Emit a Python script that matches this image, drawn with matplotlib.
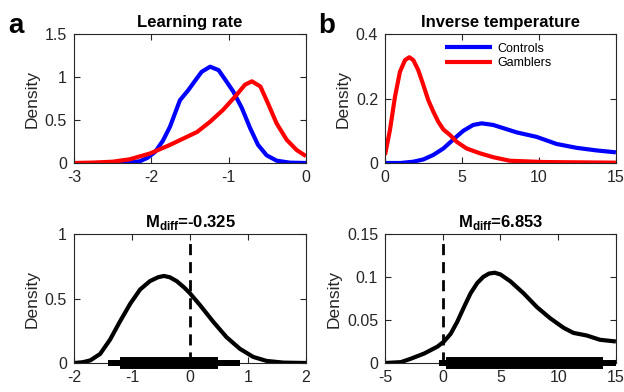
import matplotlib
matplotlib.use("Agg")
import matplotlib.pyplot as plt

plt.rcParams['font.family'] = ['Liberation Sans', 'DejaVu Sans']
plt.rcParams['mathtext.fontset'] = 'custom'
plt.rcParams['mathtext.bf'] = 'Liberation Sans:bold'
plt.rcParams['mathtext.rm'] = 'Liberation Sans'

# --- data ---
# learning rate (log scale), posterior densities
lr_ctrl_x = [-2.49, -2.3, -2.15, -2.05, -1.95, -1.85, -1.76, -1.63, -1.52, -1.44, -1.35,
             -1.24, -1.13, -1.03, -0.94, -0.83, -0.72, -0.62, -0.51, -0.38, -0.21, 0.0]
lr_ctrl_y = [0.0, 0.003, 0.02, 0.06, 0.13, 0.26, 0.42, 0.73, 0.85, 0.95, 1.06,
             1.12, 1.08, 0.95, 0.83, 0.64, 0.40, 0.21, 0.09, 0.027, 0.004, 0.0]
lr_gamb_x = [-3.0, -2.75, -2.5, -2.28, -2.02, -1.76, -1.41, -1.24, -1.07, -0.90, -0.79,
             -0.70, -0.59, -0.49, -0.38, -0.25, -0.12, 0.0]
lr_gamb_y = [0.0, 0.005, 0.015, 0.043, 0.11, 0.21, 0.36, 0.48, 0.62, 0.79, 0.91,
             0.95, 0.89, 0.69, 0.46, 0.27, 0.15, 0.08]

# inverse temperature
it_ctrl_x = [0.0, 1.0, 1.84, 2.49, 3.14, 3.79, 4.44, 5.09, 5.73, 6.28, 7.03, 8.55, 9.85,
             11.15, 12.45, 13.74, 15.0]
it_ctrl_y = [0.0, 0.0, 0.004, 0.011, 0.025, 0.045, 0.073, 0.100, 0.118, 0.123, 0.118,
             0.095, 0.081, 0.059, 0.047, 0.039, 0.033]
it_gamb_x = [0.0, 0.32, 0.65, 0.97, 1.30, 1.58, 1.84, 2.16, 2.49, 2.81, 3.14, 3.46,
             3.79, 4.22, 4.65, 5.3, 6.17, 7.03, 8.1, 10.3, 15.0]
it_gamb_y = [0.025, 0.102, 0.206, 0.283, 0.319, 0.328, 0.319, 0.288, 0.242, 0.195,
             0.159, 0.128, 0.104, 0.087, 0.066, 0.045, 0.030, 0.018, 0.007, 0.003, 0.001]

# group difference densities
d_lr_x = [-2.0, -1.85, -1.72, -1.55, -1.38, -1.21, -1.03, -0.86, -0.69, -0.55, -0.45,
          -0.35, -0.23, -0.1, 0.0, 0.17, 0.4, 0.63, 0.86, 1.09, 1.32, 1.61, 2.0]
d_lr_y = [0.0, 0.006, 0.02, 0.07, 0.18, 0.32, 0.46, 0.57, 0.635, 0.665, 0.675,
          0.665, 0.635, 0.585, 0.54, 0.45, 0.32, 0.2, 0.11, 0.047, 0.016, 0.003, 0.0]
d_it_x = [-5.0, -3.62, -2.76, -1.61, -0.46, 0.11, 0.69, 1.26, 1.84, 2.41, 2.99, 3.5,
          4.0, 4.5, 5.0, 5.86, 7.01, 8.16, 9.31, 10.46, 11.32, 12.47, 13.62, 15.0]
d_it_y = [0.0, 0.001, 0.005, 0.011, 0.019, 0.025, 0.034, 0.048, 0.065, 0.081, 0.093,
          0.1, 0.104, 0.105, 0.103, 0.095, 0.081, 0.065, 0.052, 0.041, 0.035, 0.032,
          0.027, 0.025]

# credible intervals (thin = wide, thick = narrow) and mean differences
lr_hdi_wide = [-1.42, 0.86]
lr_hdi_narrow = [-1.21, 0.49]
it_hdi_wide = [-0.32, 15.0]
it_hdi_narrow = [0.32, 13.85]
lr_mdiff = -0.325
it_mdiff = 6.853

BLUE = '#0000ff'
RED = '#ff0000'
AXC = '#262626'

fig = plt.figure(figsize=(6.24, 3.92), dpi=100)
ax1 = fig.add_axes([0.1186, 0.5842, 0.3718, 0.329])
ax2 = fig.add_axes([0.617, 0.5842, 0.370, 0.329])
ax3 = fig.add_axes([0.1186, 0.074, 0.3718, 0.329])
ax4 = fig.add_axes([0.617, 0.074, 0.370, 0.329])


def style(ax, xlim, ylim, xt, yt, ytl):
    ax.set_xlim(xlim)
    ax.set_ylim(ylim)
    ax.set_xticks(xt)
    ax.set_xticklabels([('%g' % v) for v in xt])
    ax.set_yticks(yt)
    ax.set_yticklabels(ytl)
    ax.tick_params(direction='in', top=True, right=True, length=4, width=0.8,
                   labelsize=11.5, colors=AXC, pad=5)
    for s in ax.spines.values():
        s.set_color(AXC)
        s.set_linewidth(0.8)
    ax.set_ylabel('Density', fontsize=12.5, color=AXC, labelpad=4)


def ci_bars(ax, wide, narrow):
    ax.plot(wide, [0, 0], color='black', lw=4.3, solid_capstyle='butt', clip_on=False, zorder=4)
    ax.plot(narrow, [0, 0], color='black', lw=8.6, solid_capstyle='butt', clip_on=False, zorder=4)


kw = dict(lw=3, solid_joinstyle='round', solid_capstyle='butt')

ax1.plot(lr_ctrl_x, lr_ctrl_y, color=BLUE, **kw)
ax1.plot(lr_gamb_x, lr_gamb_y, color=RED, **kw)
style(ax1, (-3, 0), (0, 1.5), [-3, -2, -1, 0], [0, 0.5, 1, 1.5], ['0', '0.5', '1', '1.5'])
ax1.set_title('Learning rate', fontsize=12, fontweight='bold', pad=5)

ax2.plot(it_ctrl_x, it_ctrl_y, color=BLUE, label='Controls', **kw)
ax2.plot(it_gamb_x, it_gamb_y, color=RED, label='Gamblers', **kw)
style(ax2, (0, 15), (0, 0.4), [0, 5, 10, 15], [0, 0.2, 0.4], ['0', '0.2', '0.4'])
ax2.set_title('Inverse temperature', fontsize=12, fontweight='bold', pad=5)
ax2.legend(loc='upper left', bbox_to_anchor=(0.22, 1.0), frameon=False, fontsize=9,
           handlelength=3.8, handletextpad=0.4, labelspacing=0.2, borderaxespad=0.3)

ax3.plot(d_lr_x, d_lr_y, color='black', **kw)
ci_bars(ax3, lr_hdi_wide, lr_hdi_narrow)
ax3.plot([0, 0], [0, 0.95], color='black', lw=2, dashes=(4, 2.5))
style(ax3, (-2, 2), (0, 1), [-2, -1, 0, 1, 2], [0, 0.5, 1], ['0', '0.5', '1'])
ax3.set_title(r'M$_{\mathbf{diff}}$=%.3f' % lr_mdiff, fontsize=12, fontweight='bold', pad=5)

ax4.plot(d_it_x, d_it_y, color='black', **kw)
ci_bars(ax4, it_hdi_wide, it_hdi_narrow)
ax4.plot([0, 0], [0, 0.143], color='black', lw=2, dashes=(4, 2.5))
style(ax4, (-5, 15), (0, 0.15), [-5, 0, 5, 10, 15], [0, 0.05, 0.1, 0.15],
      ['0', '0.05', '0.1', '0.15'])
ax4.set_title(r'M$_{\mathbf{diff}}$=%.3f' % it_mdiff, fontsize=12, fontweight='bold', pad=5)

fig.text(0.013, 0.915, 'a', fontsize=20, fontweight='bold', va='baseline')
fig.text(0.51, 0.915, 'b', fontsize=20, fontweight='bold', va='baseline')

fig.savefig('out.png', dpi=100)
